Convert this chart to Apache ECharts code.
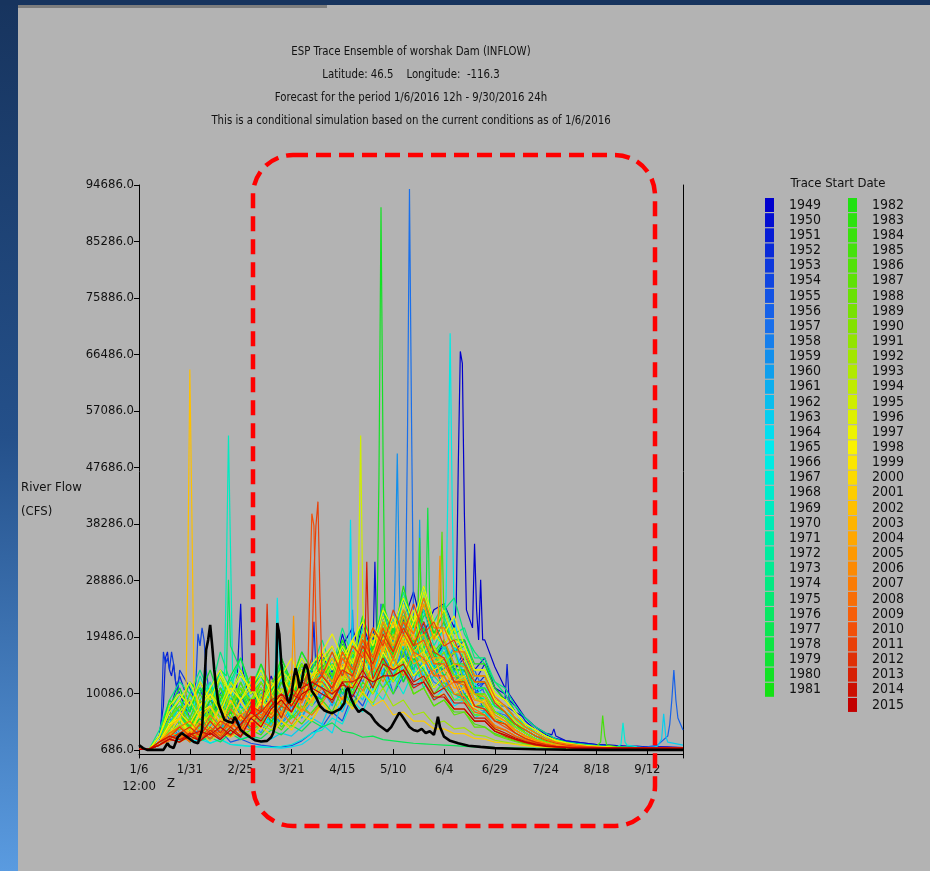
<!DOCTYPE html>
<html><head><meta charset="utf-8">
<script src="https://cdn.jsdelivr.net/npm/echarts@6/dist/echarts.min.js"></script>
<style>
html,body{margin:0;padding:0;width:930px;height:871px;overflow:hidden;background:#b3b3b3;}
#strip{position:absolute;left:0;top:0;width:18px;height:871px;background:linear-gradient(#17345e,#24508a 50%,#5a9be0);}
#topbar{position:absolute;left:0;top:0;width:930px;height:5px;background:#17345e;}
#bar2{position:absolute;left:18px;top:5px;width:309px;height:3px;background:#7d7d7d;}
#chart{position:absolute;left:0;top:0;width:930px;height:871px;}
</style></head><body>
<div id="strip"></div><div id="topbar"></div><div id="bar2"></div>
<div id="chart"></div>
<script>
const FONT = "'Liberation Sans Narrow','DejaVu Sans Condensed','Arial Narrow',sans-serif";

// sample days (days after 1/6 12:00); flows in thousand cfs
const days = [0,5,10,15,20,25,30,35,40,45,50,55,60,65,70,75,80,85,90,95,100,105,110,115,120,125,130,135,140,145,150,155,160,165,170,175,180,185,190,195,200,205,210,215,220,225,230,235,240,245,250,255,260,267.5];

const years = ['1949','1950','1951','1952','1953','1954','1955','1956','1957','1958','1959','1960','1961','1962','1963','1964','1965','1966','1967','1968','1969','1970','1971','1972','1973','1974','1975','1976','1977','1978','1979','1980','1981','1982','1983','1984','1985','1986','1987','1988','1989','1990','1991','1992','1993','1994','1995','1996','1997','1998','1999','2000','2001','2002','2003','2004','2005','2006','2007','2008','2009','2010','2011','2012','2013','2014','2015'];

const f1949=[.8,.8,2,7,5,9,6,7,11,8,10, 7,9,13,8,11,15,12, 16,13,18,21,15,19,24,18,22,27,20,24, 25,21,20,16,19,14.5,11,8.5,6,4.5,3.2,2.6, 2.2,2,1.8,1.6,1.5,1.4,1.3,1.3,1.2,1.2,1.2,1.1];
const f1950=[.8,.8,2,5,8,4,9,5,10,7,12, 8,11,7,13,10,15,11, 17,12,20,14,22,17,23,18,26,20,24,19, 22,17,19,14,16,11,10,7,6,4.5,3.5,3, 2.2,2,1.8,1.6,1.5,1.4,1.3,1.3,1.2,1.2,1.1,1.1];
const f1951=[.8,.8,3,9,10,6,5,9,7,6,9, 11,7,9,12,8,10,14, 11,15,13,17,19,14,16,21,17,15,22,16, 18,14,17,12,15,11,10,8,5.5,4,3,2.5, 2,1.8,1.6,1.5,1.4,1.3,1.2,1.2,1.1,1.1,1.1,1];
const f1952=[.8,.8,2,7,13,8,11,6,9,5,10, 6,9,5,10,7,12,9, 15,10,17,12,19,14,21,15,23,17,20,15, 19,14,16,11,13,9,8,6,4,3,2.5,2, 1.8,1.6,1.5,1.4,1.3,1.2,1.2,1.1,1.1,1,1,1];
const f1953=[.8,.8,3,10,14,11,7,6,10,12,8, 6,9,11,7,8,12,9, 11,14,10,12,17,15,13,19,16,14,20,15, 14,17,13,10,12,8,7,5,4,3,2.2,1.8, 1.6,1.5,1.4,1.3,1.2,1.2,1.1,1.1,1,1,1,1];
const f1954=[.8,.8,2,6,8,7,12,9,8,10,6, 8,10,7,11,8,12,9, 14,10,17,12,18,14,20,15,22,16,21,14, 18,13,15,11,12,9,8,7,5,4,3,2, 1.8,1.6,1.5,1.4,1.3,1.2,1.2,1.1,1.1,1,1,1];
const f1955=[.8,.8,1.5,3.5,2.5,5,3,2.5,4,2,2.5, 1.8,1.5,1.3,1.2,1.4,2.2,3.5, 4.5,7,5.5,10,8,12,15,10,13,17,12,15, 11,13,9,11,7,6,5,4,3,2.5,2,1.6, 1.4,1.3,1.2,1.2,1.1,1.1,1,1,1,1,1,1];
const f1956=[.8,.8,2,5,7,3.5,7,4,8,5,6, 4,8,6,9,6,11,8, 13,10,15,11,17,13,19,14,21,15,18,13, 16,12,14,10,11,8,8,6,4,3,2,1.6, 1.4,1.3,1.2,1.2,1.1,1.1,1,1,1.2,1.5,3,4];
const f1957=[.8,.8,2,3,6,4,5,8,4.5,7,5, 8,6,5,10,7,9,12, 9,13,16,11,14,18,13,20,16,14,21,15, 14,18,12,14,10,7,6.5,5,3.5,2.5,2,1.6, 1.4,1.3,1.2,1.1,1.1,1,1,1,1,1,1,1];
const f1958=[.8,.8,2,5,3,6,4,7,4,7,5, 8,5,8,6,10,7,12, 13,9,14,10,16,12,17,13,18,12,16,11, 13,10,11,8,8,6,5,4,3,2.2,1.8,1.5, 1.3,1.2,1.2,1.1,1.1,1,1,1,1,1,1,1];
const f1959=[.8,.8,2,3,5,3,4,6,3.5,5,7, 4,6,8,5,7,10,8, 10,13,9,14,12,16,15,12,17,13,15,12, 11,14,10,11,8,7,6,5,4,3,2.2,1.8, 1.5,1.4,1.3,1.2,1.1,1.1,1,1,1,1,1,1];
const f1960=[.8,.8,2,6,3.5,4,3,7,4,6,4, 6,3.5,7,5,8,6,10, 11,8,13,10,15,11,17,12,18,13,19,14, 17,12,13,9,9,7,6,4,3,2.3,1.8,1.5, 1.3,1.2,1.1,1.1,1,1,1,1,1,1,1,1];
const f1961=[.8,.8,3,5,8,6,4.5,8,6,9,7, 5,8,6,7,10,6,9, 10,13,9,12,15,12,14,17,12,15,13,10, 12,10,9,8,7,5.5,5,3.5,2.5,2,1.6,1.3, 1.2,1.1,1.1,1,1,1,1,1,1,1,1,1];
const f1962=[.8,.8,2,5,7,4,6,4.5,9,7,11, 6,8,5,9,6,11,8, 13,10,16,12,17,13,19,14,21,15,20,14, 17,13,15,11,11,8,7,6,5,4,3,2, 1.6,1.4,1.3,1.2,1.2,1.1,1.1,1,1,1,1,1];
const f1963=[.8,.8,2,4,3,5.5,2.5,4,3,4.5,2.5, 3,2,2.5,3.5,3,4.5,6, 5,9,7,11,9,13,11,15,12,17,13,15, 13,15,11,12,9,7,7,5,4,3,2.3,1.8, 1.5,1.3,1.2,1.1,1.1,1,1,1,1,1.3,2,1.5];
const f1964=[.8,.8,1.5,2.5,3.5,2,2.5,1.8,2.5,1.6,1.5, 1.3,1.2,1.1,1,1.2,1.6,2.8, 5,3.5,9,6,10,8,14,10,15,11,13,9, 11,8,9,6,7,4.5,4,3,2.2,1.8,1.5,1.3, 1.2,1.1,1,1,1,1,1,1,1,1,1,1];
const f1965=[.8,.8,2,5,8,10,6,9,12,8,11, 7,10,7,12,8,10,13, 11,15,12,17,14,13,19,15,18,21,14,17, 15,18,13,12,9,8,7,6,4,3,2.2,1.7, 1.5,1.3,1.2,1.1,1.1,1,1,1,1,1,1,1];
const f1966=[.8,.8,2,5,7,4,8,5,9,6,8, 5,7,4.5,9,6,10,8, 12,9,14,11,16,12,19,14,21,16,20,15, 22,17,16,12,12,8,7,5,4,3,2,1.6, 1.4,1.3,1.2,1.1,1,1,1,1,1,1,1,1];
const f1967=[.8,.8,2,3.5,2.2,2.6,3.2,1.8,2.4,1.6,1.4, 1.3,1.2,1.1,1.3,1.6,2.4,3.5, 4,6,5,9,7,11,9,13,10,14,12,10, 12,9,10,7,8,5.5,5,4,3,2.4,2,1.7, 1.5,1.3,1.2,1.1,1,1.2,1.5,1.2,1,1,1,1];
const f1968=[.8,.8,3,8,5,10,7,12,8,13,9, 7,11,8,13,9,14,11, 13,10,16,12,18,13,20,15,22,16,21,14, 18,13,15,11,11,8,7,6,4.5,3.5,2.5,2, 1.7,1.5,1.3,1.2,1.1,1.1,1,1,1,1,1,1];
const f1969=[.8,.8,2,6,9,12,7,10,8,11,13, 9,7,11,9,13,10,12, 11,15,12,17,14,19,16,13,20,15,18,13, 15,17,12,10,9,7,6,4.5,3.5,2.5,2,1.6, 1.4,1.3,1.2,1.1,1,1,1,1,1,1,1,1];
const f1970=[.8,.8,3,6,9,7,11,8,12,9,14, 10,13,9,14,10,15,11, 15,12,17,13,19,14,21,16,22,16,19,15, 18,13,15,11,11,8,7,5,4,3,2.2,1.8, 1.5,1.3,1.2,1.1,1,1,1,1,1,1,1,1];
const f1971=[.8,.8,2,5,8,6,9,12,7,11,9, 12,8,10,14,9,13,11, 14,17,13,19,16,15,21,18,23,17,24,18, 21,18,16,13,13,9,8,6,5,3.5,2.5,2, 1.7,1.5,1.3,1.2,1.1,1.1,1,1,1,1,1,1];
const f1972=[.8,.8,3,8,11,7,13,9,14,11,16, 10,14,9,15,11,16,13, 16,13,18,14,21,16,24,18,26,20,27,21, 23,18,19,14,14,10,9,7,5,4,3,2.2, 1.8,1.6,1.4,1.3,1.2,1.1,1.1,1,1,1,1,1];
const f1973=[.8,.8,2,4,3,6,4.5,7,4,6,8, 5,6.5,4.5,8,6,7,10, 9,12,10,14,11,13,16,12,14,16,11,13, 11,10,9,6.5,7,4.5,4,3,2.4,1.9,1.6,1.4, 1.2,1.1,1.1,1,1,1,1,1,1,1,1,1];
const f1974=[.8,.8,4,9,12,10,14,10,17,12,16, 11,15,10,16,12,17,14, 19,14,21,16,23,18,25,20,27,21,28,22, 25,20,21,16,16,12,11,8,6,4.5,3.5,2.5, 2,1.8,1.6,1.4,1.3,1.2,1.2,1.1,1.1,1,1,1];
const f1975=[.8,.8,2,5,4,8,6,10,7,9,11, 8,10,12,9,13,11,14, 12,16,14,18,15,20,17,23,19,22,25,20, 24,26,20,17,15,12,10,7,5,4,3,2.2, 1.8,1.6,1.4,1.3,1.2,1.1,1.1,1,1,1,1,1];
const f1976=[.8,.8,3,7,10,8,11,9,14,10,14, 10,12,9,14,10,15,12, 16,13,18,14,19,15,20,16,19,14,18,13, 15,12,12,9,9,6,5,4,3,2.3,1.8,1.5, 1.3,1.2,1.1,1.1,1,1,1,1,1,1,1,1];
const f1977=[.8,.8,1.5,2.5,2,3.5,2.2,2.8,2,3.5,2.4, 3,2.6,4,3.2,4.8,3.8,5.5, 4.5,5.2,3.8,3.5,2.8,3,2.4,2.2,2,1.8,1.7,1.6, 1.5,1.4,1.3,1.2,1.2,1.1,1.1,1,1,1,1,1, 1,1,1,1,1,1,1,1,1,1,1,1];
const f1978=[.8,.8,2,6,8,5,9,6,11,7,12, 8,12,9,14,10,15,12, 15,12,19,14,20,16,22,17,24,18,23,19, 22,17,18,13,13,9,8,6,4.5,3.5,2.5,2, 1.7,1.5,1.3,1.2,1.1,1.1,1,1,1,1,1,1];
const f1979=[.8,.8,3,9,7,12,10,14,9,13,16, 11,13,10,15,12,14,11, 16,13,18,15,17,20,15,21,17,19,15,17, 13,15,11,10,9,7,6,4.5,3.5,2.5,2,1.6, 1.4,1.3,1.2,1.1,1,1,1,1,1,1,1,1];
const f1980=[.8,.8,2,5,6,4,8,5,9,6,10, 7,10,7,12,9,13,11, 15,12,17,13,20,15,22,17,23,18,21,16, 19,14,14,10,10,7,6,5,3.5,2.5,2,1.6, 1.4,1.3,1.2,1.1,1,1,1,1,1,1,1,1];
const f1981=[.8,.8,2,3.5,4.5,3,6,4,5,7,4.5, 6,8,5.5,7,9,7,10, 9,12,14,10,15,12,13,17,12,16,14,11, 13,10,10,8,8,5.5,5,4,3,2.2,1.8,1.5, 1.3,1.2,1.1,1.1,1,1,1,1,1,1,1,1];
const f1982=[.8,.8,3,8,11,7,12,9,13,10,14, 10,15,11,16,12,17,14, 17,14,19,15,23,17,25,19,28,21,26,20, 24,19,19,15,15,11,9,7,5,4,3,2.3, 1.9,1.6,1.4,1.3,1.2,1.1,1.1,1,1,1,1,1];
const f1983=[.8,.8,2,5,7,4,6,9,6,8,10, 7,9,11,8,12,9,11, 13,15,12,17,14,18,16,21,15,19,17,14, 16,13,12,10,10,7,6,5,4,3,2.2,1.8, 1.5,1.3,1.2,1.1,1,1,1,1,1,1,1,1];
const f1984=[.8,.8,2,5,7,4.5,8,6,10,7,11, 7,11,8,12,9,14,11, 15,12,17,13,18,14,21,16,23,17,22,17, 19,15,15,11,11,8,7,5,4,3,2.3,1.8, 1.5,1.4,1.2,1.1,1.1,1,1,1,1,1,1,1];
const f1985=[.8,.8,1.5,3,2.5,3.5,2.8,4.5,3,4.5,3, 4,3.2,5.5,4,6.5,5,7, 9,7,11,8,12,10,13,10,14,10,11,8, 9,7,7,5,4.5,3.4,2.8,2.2,1.8,1.5,1.3,1.2, 1.1,1,1,1.3,1.5,1.2,1.1,1,1,1,1,1];
const f1986=[.8,.8,2,6,9,6,10,7,11,8,12, 8,12,9,14,10,15,12, 16,13,18,14,19,15,22,17,23,18,25,19, 22,18,17,13,13,9,8,6,4.5,3.5,2.6,2, 1.7,1.5,1.3,1.2,1.1,1.1,1,1,1,1,1,1];
const f1987=[.8,.8,2,3,5,3.5,2.5,6,4,5,7, 4,5,7,4.5,6,8,6.5, 9,11,8,12,10,14,11,13,15,10,11,8, 9,6.5,7,4.5,4.5,3.2,2.6,2.1,1.7,1.4,1.3,1.2, 1.1,1,1,1,1,1,1,1,1,1,1,1];
const f1988=[.8,.8,2,5,4,6,4.5,7,5,8,5.5, 7,5,9,6,10,7,11, 12,9,13,10,15,11,16,12,17,13,14,10, 12,9,9,6.5,6.5,4.5,4,3,2.3,1.8,1.5,1.3, 1.2,1.1,1,1,1,1,1,1,1,1,1,1];
const f1989=[.8,.8,3,7,5,10,8,11,7,12,10, 13,9,12,14,10,15,13, 15,18,14,19,16,21,17,22,19,23,18,20, 18,21,16,12,12,9,7,5.5,4,3,2.3,1.8, 1.5,1.4,1.2,1.1,1.1,1,1,1,1,1,1,1];
const f1990=[.8,.8,2,6,8,5,9,6,13,8,11, 9,12,9,13,10,15,12, 16,12,17,14,20,15,22,17,21,16,20,15, 17,13,13,9,10,7,6,4.5,3.5,2.5,2,1.6, 1.4,1.3,1.2,1.1,1,1,1,1,1,1,1,1];
const f1991=[.8,.8,2,4,7,5,4,8,6,10,7, 9,11,8,10,13,10,12, 14,16,12,17,15,19,16,20,17,22,16,18, 15,17,12,10,10,7,6,4.5,3.5,2.5,2,1.6, 1.4,1.3,1.2,1.1,1,1,1,1,1,1,1,1];
const f1992=[.8,.8,1.5,2.5,3.5,2,3.5,4.5,3,3.8,4.5, 3,5,4,5.5,4.5,6.5,5.5, 8.5,6.5,9.5,8,10,8.5,11,8,9,6.5,7,5, 5.5,4.2,4.4,3.2,3,2.3,2,1.7,1.5,1.3,1.2,1.1, 1,1,1,1,1,1,1,1,1,1,1,1];
const f1993=[.8,.8,2,3.5,6,4,7,5,8,6,9, 6,10,7,11,8,12,10, 12,15,11,16,13,17,20,14,19,17,15,18, 14,15,11,10,8,6.5,5.5,4,3,2.3,1.8,1.5, 1.3,1.2,1.1,1.1,1,1,1,1,1,1,1,1];
const f1994=[.8,.8,2,3.5,5,3.5,5,6.5,4,5,6, 5,7.5,6,9,6.5,10,8, 12,9,13,11,13,10,15,12,16,12,13,9.5, 10,7.5,7.5,5.5,5.5,4,3.2,2.5,2,1.6,1.4,1.2, 1.1,1,1,1,1,1,1,1,1,1,1,1];
const f1995=[.8,.8,2,5,7,9,6,10,8,12,9, 11,8,12,10,14,11,13, 15,17,14,19,16,20,18,22,19,24,17,20, 18,21,16,12,12,9,7,5.5,4,3,2.3,1.8, 1.5,1.4,1.3,1.2,1.1,1,1,1,1,1,1,1];
const f1996=[.8,.8,3,8,10,8,12,9,13,10,14, 10,13,11,14,12,16,13, 17,14,18,15,20,16,23,18,25,20,27,21, 24,19,18,14,14,10,9,7,5,4,3,2.2, 1.8,1.6,1.4,1.3,1.2,1.1,1.1,1,1,1,1,1];
const f1997=[.8,.8,3,7,9,12,8,11,14,10,13, 11,14,10,13,16,12,15, 17,20,16,19,22,18,24,21,26,22,28,22, 20,23,18,14,14,10,9,7,5,4,3,2.3, 1.9,1.6,1.4,1.3,1.2,1.1,1.1,1,1,1,1,1];
const f1998=[.8,.8,2,5,6,3.5,7,8,5,9,6, 5,9,6,10,8,11,9, 13,10,14,11,16,12,17,14,16,13,15,11, 13,10,11,7.5,7.5,5.5,5,3.5,2.7,2.1,1.7,1.4, 1.2,1.1,1,1,1,1,1,1,1,1,1,1];
const f1999=[.8,.8,2,4.5,7,5,8,10,7,11,9, 12,8,11,13,10,14,12, 16,18,14,19,16,21,19,23,18,22,25,19, 21,18,17,13,13,9,8,6,4.5,3.5,2.6,2, 1.7,1.5,1.3,1.2,1.1,1.1,1,1,1,1,1,1];
const f2000=[.8,.8,2,3.5,6,3,7,4,8,5,9, 6,9,7,10,8,12,9, 13,11,16,12,17,14,19,15,20,16,17,14, 15,11,12,8,9,5.5,5,4,3,2.3,1.8,1.5, 1.3,1.2,1.1,1.1,1,1,1,1,1,1,1,1];
const f2001=[.8,.8,1.5,2.5,2,2.8,3.5,2.2,3.5,2.8,3.8, 3,4.5,3.2,5.5,4,6.5,5.5, 8.5,6.5,9.5,7.5,10.5,8,9,6.5,7,5.5,5.5,4.2, 4.2,3.4,3.4,2.6,2.5,2,1.8,1.6,1.4,1.3,1.2,1.1, 1,1,1,1,1,1,1,1,1,1,1,1];
const f2002=[.8,.8,2,4.5,6,6,6,8,5,9,6, 9,6,10,8,11,9,13, 14,11,15,13,18,14,19,16,21,17,19,15, 16,12,13,9,9,6,5.5,4,3,2.3,1.8,1.5, 1.3,1.2,1.1,1.1,1,1,1,1,1,1,1,1];
const f2003=[.8,.8,2,3,4.5,3.5,5.5,3,6,4.5,6.5, 5,7.5,6,9.5,7,10,8.5, 13,16,12,18,15,20,17,22,18,20,15,16, 12,13,9.5,7,6.5,4.5,4,3,2.3,1.8,1.5,1.3, 1.2,1.1,1,1,1,1,1,1,1,1,1,1];
const f2004=[.8,.8,1.5,3,2.5,4.5,3,3.8,3.2,5.5,4, 5.5,4.5,7.5,5.5,8.5,7,9, 11,9,14,11,15,12,18,14,19,15,16,13, 14,11,11,8,7.5,5.5,5,3.5,2.7,2.1,1.7,1.4, 1.2,1.1,1,1,1,1,1,1,1,1,1,1];
const f2005=[.8,.8,2,3.5,3,3.8,3,5.5,4,4.8,4.2, 6.5,4.5,7.5,6.5,8,7,11, 13,11,17,14,19,15,21,18,23,19,20,16, 16,12,12.5,9,8.5,5.5,5,4,3,2.3,1.8,1.5, 1.3,1.2,1.1,1,1,1,1,1,1,1,1,1];
const f2006=[.8,.8,2,3.5,4.5,2.8,5,3.5,5.5,4,6.5, 7.5,5.5,9,7,9,8.5,12, 14,12,16,14,20,16,22,19,24,20,25,19, 19,15,14.5,10,9.5,6.5,5.5,4,3,2.3,1.8,1.5, 1.3,1.2,1.1,1,1,1,1,1,1,1,1,1];
const f2007=[.8,.8,1.5,2.2,3,2.2,3.6,2.6,3.8,3,4.5, 4,5.5,4.5,7,5,7.5,6.5, 8.5,11,9,13,10.5,15,12,16,13,17,12,14, 11,12,8.5,7.5,6.5,4.8,4,3,2.3,1.8,1.5,1.3, 1.1,1,1,1,1,1,1,1,1,1,1,1];
const f2008=[.8,.8,2,3.5,4.5,5.5,3.5,6.5,4.5,7.5,5.5, 8,6.5,8,8.5,11,8.5,12, 13,11,14,12,17,14,19,17,22,20,26,21, 21,17,17,13,13,9.5,8,6,4.5,3.5,2.6,2, 1.7,1.5,1.3,1.2,1.1,1.1,1,1,1,1,1,1];
const f2009=[.8,.8,1.5,2.5,3.5,2,4,2.6,4.5,3,5, 6,8,6.5,9.5,8,11,12, 12,10,16,13,18,15,19,16,20,17,16,13, 13,10,9.5,7,6.5,4.5,4,3,2.3,1.8,1.5,1.3, 1.1,1,1,1,1,1,1,1,1,1,1,1];
const f2010=[.8,.8,1.5,3,2.5,3.5,2.5,4.5,3,5.5,3.5, 7,6,9,8,11,9,12, 13,11,17,14,19,16,21,17,22,18,19,15, 15,12,11.5,8,7.5,5.5,4.5,3.5,2.6,2,1.6,1.3, 1.2,1.1,1,1,1,1,1,1,1,1,1,1];
const f2011=[.8,.8,2,2.8,4.5,3,5,3.5,5.5,4.5,6.5, 4.5,7.5,6,8,7,10.5,11, 14,17,13,18,16,21,18,24,20,25,20,22, 18,19,15,12,12,8.5,7,5,4,3,2.3,1.8, 1.5,1.3,1.2,1.1,1,1,1,1,1,1,1,1];
const f2012=[.8,.8,1.5,2.5,3.5,4.5,3,5.5,3.5,6,4.5, 8,7,9,10,9,12,11, 13,11,14,13,18,15,20,17,21,18,22,17, 16,12,12,8,7.5,5.5,5,3.5,2.6,2,1.6,1.3, 1.2,1.1,1,1,1,1,1,1,1,1,1,1];
const f2013=[.8,.8,1.5,2.5,2,3.5,2.2,4,2.6,4.5,3, 6,7,9,6,10,9,12, 11,8.5,12,12,13,12.5,16,13,14,11,12,9, 10,7.5,7.5,5.5,5.5,3.8,3,2.4,1.9,1.5,1.3,1.2, 1.1,1,1,1,1,1,1,1,1,1,1,1];
const f2014=[.8,.8,2,3,2.4,3.2,3.8,3.2,4.5,3.2,5, 7,5.5,8,10,8,11,12, 11,10,11.5,11,14,11,15,14,15,12,13,10, 11,8.5,8.5,6,6,4.2,3.5,2.7,2.1,1.7,1.4,1.2, 1.1,1,1,1,1,1,1,1,1,1,1,1];
const f2015=[.8,.8,1.5,2.5,2,3,2.2,3.5,2.4,4,2.8, 6,4.5,7.5,9,7,10,11, 10,9,12,9.5,13,12,13,13,14,11.5,12,9.5, 9.5,7.5,7.5,5.5,5.5,3.8,3.2,2.5,2,1.6,1.3,1.2, 1.1,1,1,1,1,1,1,1,1,1,1,1];

const traces=[f1949,f1950,f1951,f1952,f1953,f1954,f1955,f1956,f1957,f1958,f1959,f1960,f1961,f1962,f1963,f1964,f1965,f1966,f1967,f1968,f1969,f1970,f1971,f1972,f1973,f1974,f1975,f1976,f1977,f1978,f1979,f1980,f1981,f1982,f1983,f1984,f1985,f1986,f1987,f1988,f1989,f1990,f1991,f1992,f1993,f1994,f1995,f1996,f1997,f1998,f1999,f2000,f2001,f2002,f2003,f2004,f2005,f2006,f2007,f2008,f2009,f2010,f2011,f2012,f2013,f2014,f2015];

// short flow events read day by day: [year, first day, daily flows (kcfs)]
const spikes=[
 [1951,12,[8,16,17,14,13,15,12]],
 [1953,11,[6,17,15,16,14,17,15,12,10]],
 [1954,28,[12,20,18,21,19,14]],
 [2002,23,[8,30,64,40,12]],
 [1969,42,[13,31,53,34,14]],
 [1976,43,[13,29,18]],
 [1950,48,[11,18,25,14]],
 [2012,62,[12,25,14]],
 [1965,67,[14,26,16]],
 [2005,75,[12,23,13]],
 [2010,83,[13,28,40,38,22,14]],
 [2011,85,[16,30,38,42,26,13]],
 [1952,85,[14,22,14]],
 [1964,103,[12,39,18]],
 [1958,104,[14,24,15]],
 [1995,107,[16,31,53,26,16]],
 [2013,111,[16,32,18]],
 [1950,115,[16,32,19]],
 [1980,117,[21,46,91,50,22]],
 [1955,118,[15,25,16]],
 [1959,125,[17,31,50,29,16]],
 [1957,131,[24,52,94,56,22]],
 [1960,137,[19,39,20]],
 [1984,137,[21,36,22]],
 [1978,141,[23,41,24]],
 [2006,147,[21,33,21]],
 [1986,148,[24,37,22]],
 [1966,151,[26,46,70,42,22]],
 [1949,156,[25,48,67,65,40,24]],
 [1949,164,[21,35,24,19,29,19]],
 [1951,180,[9,15,9]],
 [1950,203,[3.2,4.2,3]],
 [1985,227,[2,6.4,3]],
 [1967,237,[1.6,5.2,2]],
 [1963,257,[2.5,6.7,3]],
 [1956,261,[5,9,14,9,6]]
];

// current-condition (black) trace
const obsDays=[0,2,4,12,14,15,17,19,21,23,25,27,29,31,32,33,34,35,36,37,38,39,40,42,44,46,47,48,50,53,57,60,63,65,66,67,68,69,70,71,72,73,74,75,76,77,78,79,80,81,82,83,84,85,87,89,91,93,95,97,99,101,102,103,104,106,108,110,112,114,116,118,120,122,124,126,128,129,131,133,135,137,139,141,143,145,146,147,148,150,153,157,162,168,175,185,195,210,230,267.5];
const obsFlow=[1.5,1.0,0.7,0.7,1.8,1.3,1.0,2.8,3.5,3.0,2.5,2.0,1.8,4.0,10.7,17.3,19,21.5,18,14,11,8.5,7.5,5.7,5.4,5.2,6.2,5.6,4.0,3.2,2.3,2.1,2.2,2.8,3.5,5,21.8,20,15,12,10.5,9,8.5,10,12.5,14.3,13,11,12,14,15,14,12,10.5,9.5,8,7.3,7,6.8,7.2,7.5,8.5,10.7,11,9.5,8,7,7.5,7,6.5,5.5,4.8,4.3,3.8,4.5,5.7,6.9,6.5,5.5,4.5,4,3.8,4.2,3.5,3.8,3.2,4.5,6.2,4.5,2.9,2.2,1.8,1.4,1.2,1.0,0.9,0.8,0.75,0.7,0.7];

const yTicks=[686,10086,19486,28886,38286,47686,57086,66486,75886,85286,94686];
const xTickDays=[0,25,50,75,100,125,150,175,200,225,250];
const xTickLabels=['1/6\n12:00','1/31','2/25','3/21','4/15','5/10','6/4','6/29','7/24','8/18','9/12'];
const titleLines=['ESP Trace Ensemble of worshak Dam (INFLOW)','Latitude: 46.5    Longitude:  -116.3','Forecast for the period 1/6/2016 12h - 9/30/2016 24h','This is a conditional simulation based on the current conditions as of 1/6/2016'];

// jet-like colour ramp for trace years
const ramp=[[0,[0,0,205]],[0.12,[25,110,235]],[0.24,[0,235,240]],[0.36,[0,235,150]],[0.485,[20,225,20]],[0.62,[130,225,0]],[0.74,[250,245,0]],[0.83,[255,170,0]],[0.92,[245,85,10]],[1,[195,0,0]]];
function jet(t){
  for(let i=1;i<ramp.length;i++){
    if(t<=ramp[i][0]){
      const a=ramp[i-1],b=ramp[i],u=(t-a[0])/(b[0]-a[0]);
      const c=a[1].map((v,k)=>Math.round(v+(b[1][k]-v)*u));
      return 'rgb('+c.join(',')+')';
    }
  }
  return 'rgb(195,0,0)';
}

const series=years.map((y,k)=>{
  const col=jet(k/(years.length-1));
  let pts=days.map((d,i)=>[d,traces[k][i]*1000]);
  spikes.filter(s=>s[0]===+y).forEach(s=>{
    const a=s[1],b=s[1]+s[2].length-1;
    pts=pts.filter(p=>p[0]<a||p[0]>b);
    s[2].forEach((v,j)=>pts.push([a+j,v*1000]));
  });
  pts.sort((p,q)=>p[0]-q[0]);
  return {name:y,type:'line',data:pts,symbol:'none',showSymbol:false,silent:true,
    lineStyle:{width:1.2,color:col},itemStyle:{color:col},emphasis:{disabled:true},z:2};
});
series.push({name:'current',type:'line',data:obsDays.map((d,i)=>[d,obsFlow[i]*1000]),
  symbol:'none',silent:true,lineStyle:{width:2.6,color:'#000'},itemStyle:{color:'#000'},z:3});

const txt={color:'#111',fontFamily:FONT,fontWeight:'normal'};
const legendText={color:'#111',fontFamily:FONT,fontSize:14,lineHeight:14,padding:[0,0,0,10]};

const chart=echarts.init(document.getElementById('chart'),null,{renderer:'canvas'});
chart.setOption({
  backgroundColor:'transparent',
  animation:false,
  title:[
    {text:'River Flow\n(CFS)',left:21,top:476,padding:0,textStyle:Object.assign({fontSize:13,lineHeight:24},txt)},
    {text:'Trace Start Date',left:838,top:177,textAlign:'center',padding:0,textStyle:Object.assign({fontSize:13},txt)},
    {text:'Z',left:167,top:777,padding:0,textStyle:Object.assign({fontSize:13},txt)}
  ],
  legend:[
    {data:years.slice(0,33),orient:'vertical',left:765,top:198,itemWidth:9,itemHeight:14,itemGap:1.15,icon:'rect',selectedMode:false,padding:0,textStyle:legendText,itemStyle:{borderWidth:0}},
    {data:years.slice(33),orient:'vertical',left:848,top:198,itemWidth:9,itemHeight:14,itemGap:1.15,icon:'rect',selectedMode:false,padding:0,textStyle:legendText,itemStyle:{borderWidth:0}}
  ],
  grid:{left:139,right:247,top:185,bottom:113,containLabel:false},
  xAxis:{type:'value',min:0,max:267.5,
    axisLine:{lineStyle:{color:'#000',width:1}},
    splitLine:{show:false},
    axisTick:{show:true,inside:true,length:5,customValues:xTickDays,lineStyle:{color:'#000'}},
    axisLabel:{customValues:xTickDays,formatter:v=>xTickLabels[xTickDays.indexOf(v)],color:'#111',fontFamily:FONT,fontSize:13,lineHeight:17,margin:3}},
  yAxis:[
    {type:'value',min:-650,max:94686,
     axisLine:{show:true,lineStyle:{color:'#000',width:1}},
     splitLine:{show:false},
     axisTick:{show:true,length:5,customValues:yTicks,lineStyle:{color:'#000'}},
     axisLabel:{customValues:yTicks,formatter:v=>v.toFixed(1),color:'#111',fontFamily:FONT,fontSize:13,margin:5}},
    {type:'value',position:'right',min:-650,max:94686,
     axisLine:{show:true,lineStyle:{color:'#000',width:1}},
     splitLine:{show:false},axisTick:{show:false},axisLabel:{show:false}}
  ],
  series:series,
  graphic:[
    {type:'group',x:411,y:52,scaleX:0.87,silent:true,
     children:titleLines.map((t,i)=>({type:'text',y:i*23,style:{text:t,x:0,y:0,textAlign:'center',textVerticalAlign:'middle',fill:'#111',font:"13px "+FONT}}))},
    {type:'rect',silent:true,z:100,shape:{x:253,y:155,width:402,height:671,r:40},
     style:{fill:'none',stroke:'#ff0000',lineWidth:4.5,lineDash:[15,8]}}
  ]
});
</script></body></html>
